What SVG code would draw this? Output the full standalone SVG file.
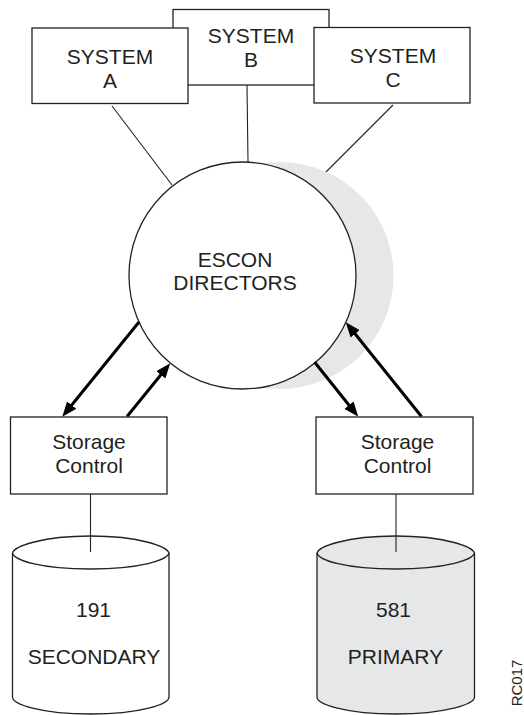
<svg xmlns="http://www.w3.org/2000/svg" width="524" height="715" viewBox="0 0 524 715">
<style>
.box{fill:#fff;stroke:#222;stroke-width:1.3}
.ln{stroke:#222;stroke-width:1.1;fill:none}
.arr{stroke:#000;stroke-width:3;fill:none;marker-end:url(#ah)}
.t{font-family:"Liberation Sans",Arial,sans-serif;font-size:21px;fill:#231f20;text-anchor:middle}
.cyl{stroke:#222;stroke-width:1.3}
</style>
<defs>
<marker id="ah" markerUnits="userSpaceOnUse" markerWidth="15" markerHeight="12" viewBox="0 0 14 11" refX="8" refY="5.5" orient="auto">
<path d="M0,0 L14,5.5 L0,11 Z" fill="#000"/>
</marker>
</defs>
<rect width="524" height="715" fill="#fff"/>
<g id="connectors">
<line class="ln" x1="112" y1="106" x2="172" y2="185"/>
<line class="ln" x1="247" y1="85" x2="248" y2="162"/>
<line class="ln" x1="393" y1="105" x2="313" y2="185"/>
<line class="ln" x1="90.5" y1="494" x2="90.5" y2="552"/>
<line class="ln" x1="396" y1="494" x2="396" y2="552"/>
</g>
<g id="systemB">
<rect class="box" x="173" y="9.5" width="156" height="75.5"/>
<text class="t" x="251" y="43">SYSTEM</text>
<text class="t" x="251" y="67">B</text>
</g>
<g id="systemA">
<rect class="box" x="32" y="28" width="156" height="75.5"/>
<text class="t" x="110" y="64">SYSTEM</text>
<text class="t" x="110" y="88">A</text>
</g>
<g id="systemC">
<rect class="box" x="314" y="27.5" width="156" height="75.5"/>
<text class="t" x="393" y="63">SYSTEM</text>
<text class="t" x="393" y="87">C</text>
</g>
<g id="escon">
<circle cx="280" cy="275.5" r="113.5" fill="#e6e7e8"/>
<circle cx="242.5" cy="275.5" r="113.5" fill="#fff" stroke="#222" stroke-width="1.3"/>
<text class="t" x="235" y="267">ESCON</text>
<text class="t" x="235" y="290">DIRECTORS</text>
</g>
<g id="arrows">
<line class="arr" x1="139" y1="322" x2="66.3" y2="411.8"/>
<line class="arr" x1="127" y1="416.5" x2="166.2" y2="368.2"/>
<line class="arr" x1="314.5" y1="362" x2="354.3" y2="411.8"/>
<line class="arr" x1="421.5" y1="416.5" x2="349.8" y2="327.2"/>
</g>
<g id="storageLeft">
<rect class="box" x="10.5" y="417" width="156.5" height="77"/>
<text class="t" x="89" y="449">Storage</text>
<text class="t" x="89" y="473">Control</text>
</g>
<g id="storageRight">
<rect class="box" x="316" y="417" width="157" height="77"/>
<text class="t" x="397.5" y="449">Storage</text>
<text class="t" x="397.5" y="473">Control</text>
</g>
<g id="diskSecondary">
<path class="cyl" fill="#fff" d="M12.5,553 C14,547 40,536 90.5,536 C141,536 167,547 169,553 L169,697 C169,704 141,714 90.5,714 C40,714 12.5,704 12.5,697 Z"/>
<path class="cyl" fill="none" d="M12.5,553 C14,560 40,569 90.5,569 C141,569 167,560 169,553"/>
<line class="ln" x1="90.5" y1="536" x2="90.5" y2="552"/>
<text class="t" x="93.5" y="617">191</text>
<text class="t" x="94" y="664">SECONDARY</text>
</g>
<g id="diskPrimary">
<path class="cyl" fill="#e6e7e8" d="M317,553 C318.5,547 345,536 395.5,536 C446,536 472.5,547 474.5,553 L474.5,697 C474.5,704 446,714 395.5,714 C345,714 317,704 317,697 Z"/>
<path class="cyl" fill="none" d="M317,553 C318.5,560 345,569 395.5,569 C446,569 472.5,560 474.5,553"/>
<line class="ln" x1="396" y1="536" x2="396" y2="552"/>
<text class="t" x="393.5" y="617">581</text>
<text class="t" x="395.5" y="664">PRIMARY</text>
</g>
<text class="t" style="font-size:15px" transform="translate(522,683) rotate(-90)">RC017</text>
</svg>
